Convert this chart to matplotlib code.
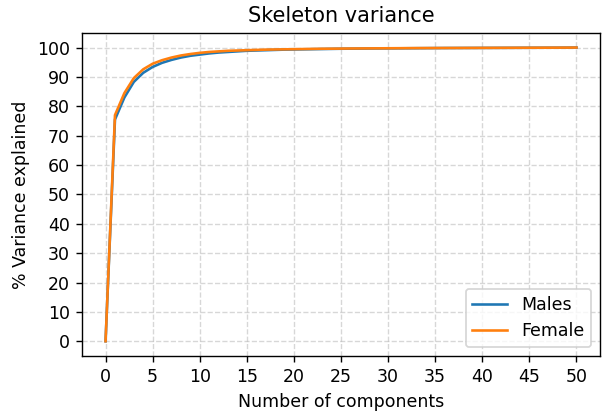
import matplotlib.pyplot as plt
import numpy as np

components = list(range(51))
males = [0, 75.5, 83.0, 88.3, 91.4, 93.4, 94.8, 95.8, 96.6, 97.2, 97.6,
         98.0, 98.3, 98.5, 98.7, 98.9, 99.0, 99.1, 99.2, 99.3, 99.35,
         99.4, 99.45, 99.5, 99.55, 99.6, 99.62, 99.65, 99.68, 99.7, 99.72,
         99.74, 99.76, 99.78, 99.8, 99.82, 99.84, 99.85, 99.86, 99.87, 99.88,
         99.89, 99.9, 99.91, 99.92, 99.93, 99.94, 99.95, 99.96, 99.98, 100.0]
female = [0, 77.0, 84.5, 89.6, 92.6, 94.5, 95.7, 96.6, 97.3, 97.8, 98.2,
          98.5, 98.7, 98.9, 99.0, 99.1, 99.2, 99.3, 99.35, 99.4, 99.45,
          99.5, 99.55, 99.6, 99.62, 99.65, 99.68, 99.7, 99.72, 99.74, 99.76,
          99.78, 99.8, 99.82, 99.83, 99.84, 99.85, 99.86, 99.87, 99.88, 99.89,
          99.9, 99.91, 99.92, 99.93, 99.94, 99.95, 99.96, 99.97, 99.98, 100.0]

fig, ax = plt.subplots(figsize=(603 / 125, 411 / 125), dpi=125)
ax.plot(components, males, label="Males")
ax.plot(components, female, label="Female")
ax.set_title("Skeleton variance")
ax.set_xlabel("Number of components")
ax.set_ylabel("% Variance explained")
ax.set_xticks(np.arange(0, 51, 5))
ax.set_yticks(np.arange(0, 101, 10))
ax.grid(True, linestyle="--", alpha=0.5)
ax.legend(loc="lower right")
fig.subplots_adjust(left=0.136, right=0.995, top=0.92, bottom=0.134)
fig.savefig("out.png")
